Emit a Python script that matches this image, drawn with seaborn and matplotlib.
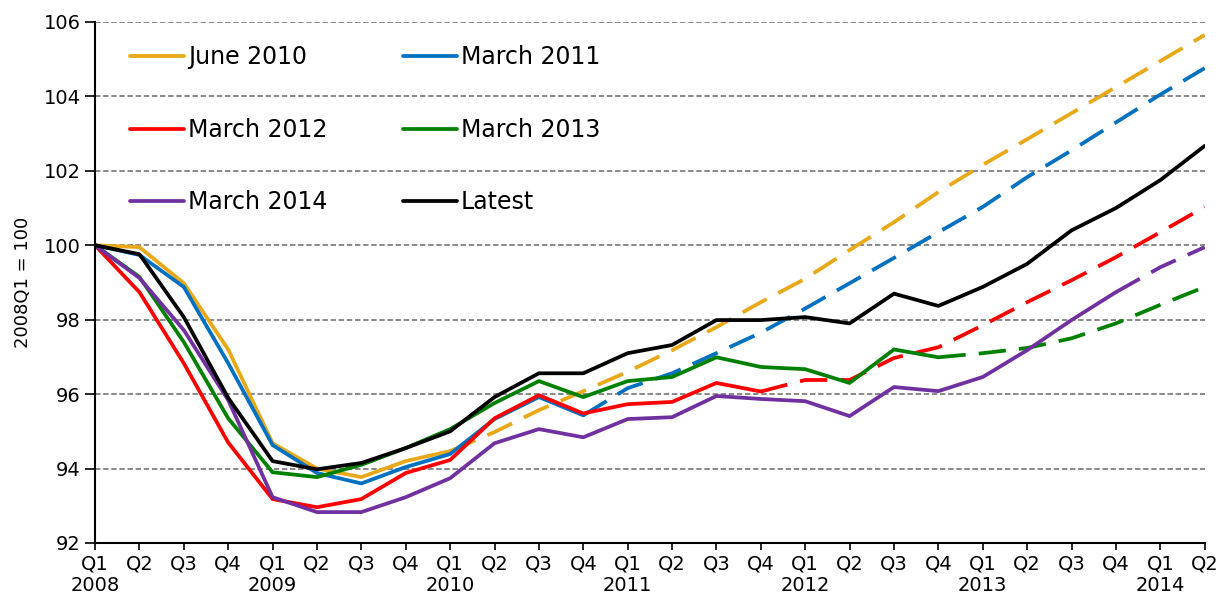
import numpy as np
import pandas as pd
import matplotlib
matplotlib.use("Agg")
import matplotlib.pyplot as plt
import seaborn as sns

quarters = [f"Q{q}" for q in [1, 2, 3, 4] * 7][:26]
years = ["2008", "2009", "2010", "2011", "2012", "2013", "2014"]

june_2010 = [100.0, 99.95, 98.98, 97.2, 94.68, 94.0, 93.77, 94.2, 94.47,
             94.98, 95.57, 96.08, 96.6, 97.18, 97.8, 98.47, 99.1, 99.87,
             100.62, 101.43, 102.16, 102.85, 103.55, 104.25, 104.95, 105.65]
march_2011 = [100.0, 99.74, 98.88, 96.83, 94.63, 93.88, 93.6, 94.04, 94.39,
              95.33, 95.92, 95.43, 96.16, 96.56, 97.1, 97.65, 98.3, 98.98,
              99.66, 100.35, 101.03, 101.83, 102.55, 103.3, 104.05, 104.76]
march_2012 = [100.0, 98.74, 96.83, 94.7, 93.18, 92.96, 93.18, 93.88, 94.23,
              95.35, 95.97, 95.48, 95.73, 95.79, 96.3, 96.07, 96.38, 96.38,
              96.97, 97.26, 97.85, 98.47, 99.06, 99.68, 100.35, 101.03]
march_2013 = [100.0, 99.15, 97.4, 95.35, 93.9, 93.77, 94.1, 94.55, 95.06,
              95.76, 96.35, 95.92, 96.35, 96.46, 96.99, 96.73, 96.67, 96.3,
              97.2, 96.99, 97.1, 97.24, 97.5, 97.9, 98.4, 98.88]
march_2014 = [100.0, 99.12, 97.72, 95.84, 93.23, 92.83, 92.83, 93.23, 93.74,
              94.68, 95.06, 94.84, 95.33, 95.38, 95.95, 95.87, 95.81, 95.41,
              96.19, 96.08, 96.46, 97.18, 97.99, 98.74, 99.41, 99.95]
latest = [100.0, 99.76, 98.07, 95.9, 94.2, 93.98, 94.15, 94.55, 95.0,
          95.92, 96.56, 96.56, 97.1, 97.32, 97.99, 97.99, 98.07, 97.9,
          98.7, 98.37, 98.88, 99.5, 100.4, 101.0, 101.75, 102.67]

# index of last outturn quarter for each forecast vintage
last_outturn = {"June 2010": 8, "March 2011": 11, "March 2012": 15,
                "March 2013": 19, "March 2014": 23, "Latest": 25}

series = {"June 2010": june_2010, "March 2011": march_2011,
          "March 2012": march_2012, "March 2013": march_2013,
          "March 2014": march_2014, "Latest": latest}
colors = {"June 2010": "#E8A818", "March 2011": "#0070C0",
          "March 2012": "#FF0000", "March 2013": "#008000",
          "March 2014": "#7030A0", "Latest": "#000000"}

sns.set_style("white")
plt.rcParams["font.family"] = ["DejaVu Sans"]
plt.rcParams["text.color"] = "black"
plt.rcParams["axes.labelcolor"] = "black"
plt.rcParams["xtick.color"] = "black"
plt.rcParams["ytick.color"] = "black"

fig, ax = plt.subplots(figsize=(12.28, 6.06), dpi=100)
fig.subplots_adjust(left=0.0774, right=0.981, top=0.9637, bottom=0.104)

x = np.arange(len(latest))
handles = {}
for name, vals in series.items():
    df = pd.DataFrame({"x": x, "v": vals})
    k = last_outturn[name]
    sns.lineplot(data=df.iloc[:k + 1], x="x", y="v", ax=ax, color=colors[name],
                 lw=2.7, legend=False)
    handles[name] = ax.lines[-1]
    if k < len(vals) - 1:
        sns.lineplot(data=df.iloc[k:], x="x", y="v", ax=ax, color=colors[name],
                     lw=2.7, legend=False, linestyle=(0, (7.3, 3.5)))

ax.set_xlim(0, 25)
ax.set_ylim(92, 106)
ax.set_yticks(np.arange(92, 107, 2))
ax.yaxis.grid(True, color="#808080", linestyle=(0, (3, 1.5)), lw=1.3)
ax.set_axisbelow(True)

labels = []
for i, q in enumerate(quarters):
    if q == "Q1":
        labels.append(q + "\n" + years[i // 4])
    else:
        labels.append(q)
ax.set_xticks(x)
ax.set_xticklabels(labels, fontsize=14)
ax.tick_params(axis="y", labelsize=14, length=7)
ax.tick_params(axis="x", length=5, pad=3)
ax.tick_params(axis="both", direction="out", width=1.2, color="black",
               labelcolor="black", bottom=True, left=True)
ax.set_xlabel("")
ax.set_ylabel("2008Q1 = 100", fontsize=13, labelpad=8, color="black")

for s in ["top", "right"]:
    ax.spines[s].set_visible(False)
for s in ["left", "bottom"]:
    ax.spines[s].set_color("black")
    ax.spines[s].set_linewidth(1.5)

# matplotlib fills legend columns first, so reorder for row-wise reading
order = ["June 2010", "March 2012", "March 2014",
         "March 2011", "March 2013", "Latest"]
leg = ax.legend([handles[n] for n in order], order, loc="upper left", ncol=2,
                frameon=False, fontsize=17, handlelength=2.3, handletextpad=0.15,
                labelspacing=2.05, columnspacing=3.2, borderpad=0, borderaxespad=0,
                bbox_to_anchor=(0.0315, 0.955))
for t in leg.get_texts():
    t.set_color("black")

fig.savefig("out.png", dpi=100)
